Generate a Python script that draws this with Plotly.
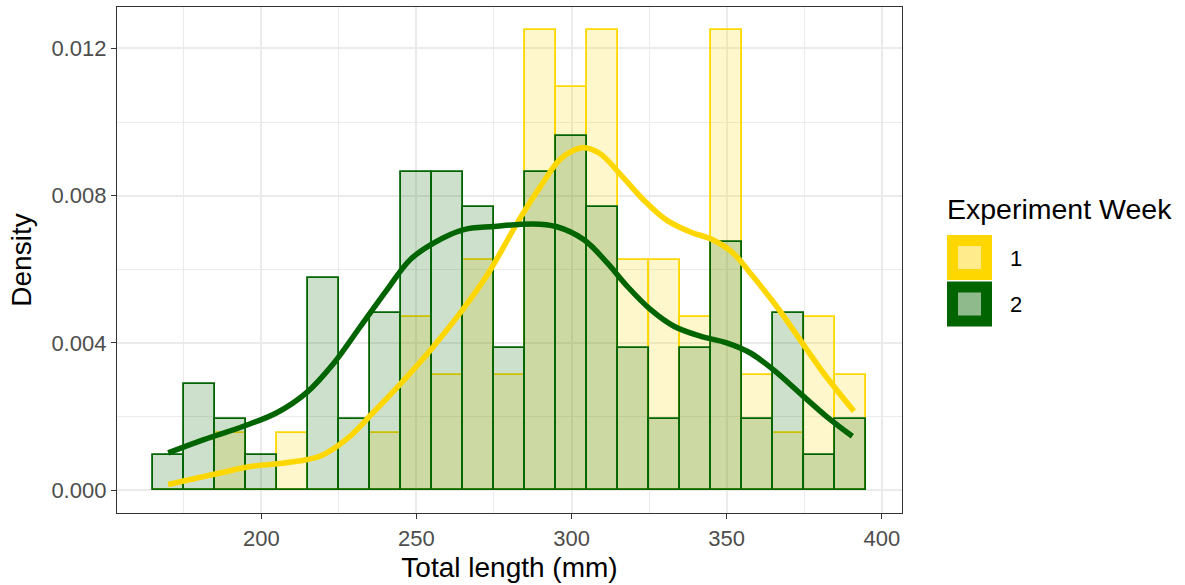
import plotly.graph_objects as go

# ---- data ----
bin_centers = [170, 180, 190, 200, 210, 220, 230, 240, 250, 260, 270, 280,
               290, 300, 310, 320, 330, 340, 350, 360, 370, 380, 390]
week1_density = [0, 0, 0.00156, 0, 0.00156, 0, 0, 0.00156, 0.00469, 0.00313, 0.00625, 0.00313,
                 0.0125, 0.01094, 0.0125, 0.00625, 0.00625, 0.00469, 0.0125, 0.00313, 0.00156, 0.00469, 0.00313]
week2_density = [0.00096, 0.00288, 0.00192, 0.00096, 0, 0.00577, 0.00192, 0.00481, 0.00865, 0.00865, 0.00769, 0.00385,
                 0.00865, 0.00962, 0.00769, 0.00385, 0.00192, 0.00385, 0.00673, 0.00192, 0.00481, 0.00096, 0.00192]

week1_kde_x = [170, 187, 197.5, 208, 219, 227.5, 236, 245, 254.5, 264, 272.5, 283.5, 290, 296.5,
               303.5, 309, 315.5, 323, 330.5, 338, 345.5, 352, 358.5, 366, 373.5, 381, 391]
week1_kde_y = [0.00015, 0.00047, 0.00065, 0.00074, 0.00092, 0.00138, 0.0021, 0.0029, 0.0038, 0.0048,
               0.0058, 0.0074, 0.00825, 0.009, 0.0093, 0.00915, 0.0086, 0.0079, 0.00734, 0.00702,
               0.0068, 0.00644, 0.0058, 0.005, 0.0041, 0.0032, 0.00214]
week2_kde_x = [170, 181.5, 194.5, 205, 214.5, 223.5, 232, 240.5, 248, 255.5, 265, 275, 287.5, 295,
               304, 311.5, 318, 325.5, 333, 341.5, 350, 357.5, 365, 373.5, 382, 390.5]
week2_kde_y = [0.00101, 0.00137, 0.00174, 0.0021, 0.00264, 0.00346, 0.00445, 0.00544, 0.00626,
               0.00671, 0.00707, 0.00716, 0.00723, 0.00716, 0.0068, 0.00617, 0.00553, 0.0049,
               0.00445, 0.00418, 0.004, 0.00373, 0.00327, 0.00264, 0.00201, 0.00146]

legend_title = "Experiment Week"
legend_labels = ["1", "2"]

GOLD = "#FFD700"
DKGREEN = "#006400"
FONT = "Liberation Sans, Arial, sans-serif"

fig = go.Figure()
fig.add_trace(go.Bar(x=bin_centers, y=week1_density, width=10,
                     marker=dict(color="rgba(255,215,0,0.2)", line=dict(color=GOLD, width=1.8)),
                     showlegend=False))
fig.add_trace(go.Bar(x=bin_centers, y=week2_density, width=10,
                     marker=dict(color="rgba(0,100,0,0.2)", line=dict(color=DKGREEN, width=1.8)),
                     showlegend=False))
fig.add_trace(go.Scatter(x=week1_kde_x, y=week1_kde_y, mode="lines",
                         line=dict(color=GOLD, width=5.5, shape="spline", smoothing=1.0),
                         showlegend=False))
fig.add_trace(go.Scatter(x=week2_kde_x, y=week2_kde_y, mode="lines",
                         line=dict(color=DKGREEN, width=5.5, shape="spline", smoothing=1.0),
                         showlegend=False))

L, R, T, B = 117, 902, 7, 513
W, H = 1185, 585
pw, ph = R - L, B - T


def px(x):
    return (x - L) / pw


def py(y):
    return (B - y) / ph


# manual legend keys
shapes = []
key_colors = [(GOLD, "#FFEA8C"), (DKGREEN, "#8FBA8C")]
key_tops = [235, 281.5]
for (outer, inner), top in zip(key_colors, key_tops):
    shapes.append(dict(type="rect", xref="paper", yref="paper", x0=px(947), x1=px(992),
                       y0=py(top + 45), y1=py(top), fillcolor=outer, line=dict(width=0), layer="above"))
    shapes.append(dict(type="rect", xref="paper", yref="paper", x0=px(958), x1=px(981),
                       y0=py(top + 34), y1=py(top + 11), fillcolor=inner, line=dict(width=0), layer="above"))

annotations = [
    dict(text=legend_title, xref="paper", yref="paper", x=px(945), y=py(209), xanchor="left",
         yanchor="middle", showarrow=False, font=dict(size=28.5, color="black", family=FONT)),
]
for lab, top in zip(legend_labels, key_tops):
    annotations.append(dict(text=lab, xref="paper", yref="paper", x=px(1008), y=py(top + 23),
                            xanchor="left", yanchor="middle", showarrow=False,
                            font=dict(size=22, color="black", family=FONT)))

axis_common = dict(showline=True, linecolor="#333333", linewidth=1.3, mirror=True,
                   ticks="outside", ticklen=5, tickcolor="#333333", tickwidth=1.3,
                   showgrid=True, gridcolor="#EBEBEB", gridwidth=1.7, zeroline=False,
                   tickfont=dict(size=22, color="#4D4D4D", family=FONT))

fig.update_layout(
    width=W, height=H, margin=dict(l=L, r=W - R, t=T, b=H - B),
    paper_bgcolor="white", plot_bgcolor="white", barmode="overlay", bargap=0,
    font=dict(family=FONT),
    shapes=shapes, annotations=annotations,
    xaxis=dict(range=[153.5, 406.5], tick0=0, dtick=50,
               minor=dict(dtick=25, tick0=0, showgrid=True, gridcolor="#EBEBEB", gridwidth=1.0),
               title=dict(text="Total length (mm)", font=dict(size=28, color="black", family=FONT), standoff=7),
               **axis_common),
    yaxis=dict(range=[-0.000625, 0.013125], tick0=0, dtick=0.004, tickformat=".3f",
               minor=dict(dtick=0.002, tick0=0, showgrid=True, gridcolor="#EBEBEB", gridwidth=1.0),
               title=dict(text="Density", font=dict(size=28, color="black", family=FONT), standoff=11),
               **axis_common),
)

fig.write_html("out.html")
